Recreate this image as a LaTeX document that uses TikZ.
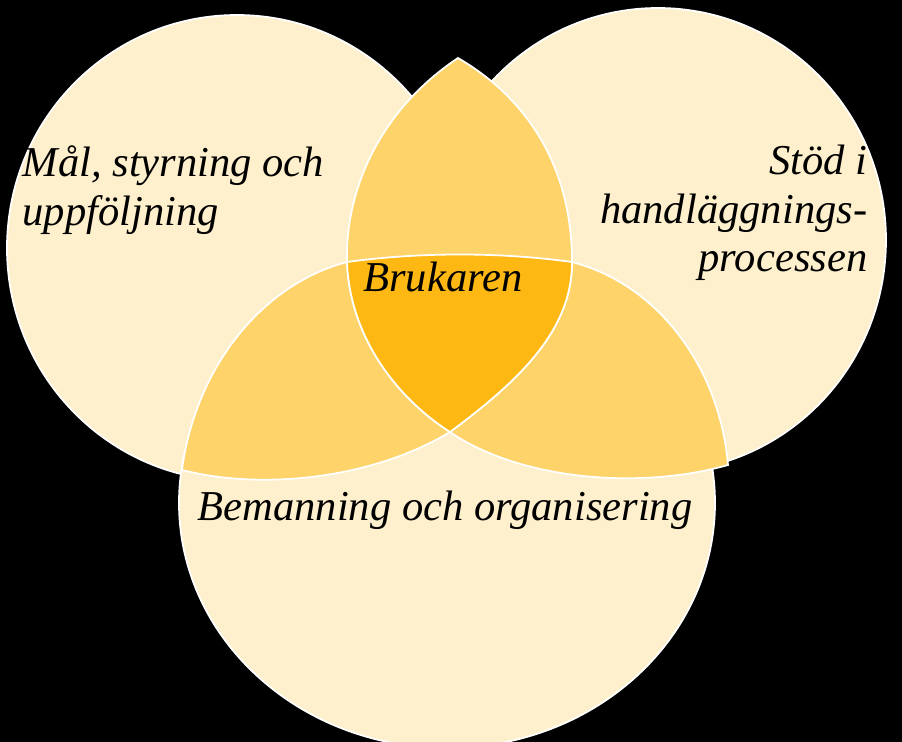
\documentclass[tikz,border=0pt]{standalone}
\usepackage{fontspec}
\setmainfont{Liberation Serif}
\definecolor{paleY}{HTML}{FEF0CC}
\definecolor{midY}{HTML}{FDD36A}
\definecolor{deepY}{HTML}{FDB813}
\begin{document}
\begin{tikzpicture}[x=0.01cm, y=-0.01cm,
    ring/.style={fill=paleY, draw=white, line width=0.5pt},
    lens/.style={fill=midY, draw=white, line width=0.5pt},
    core/.style={fill=deepY, draw=white, line width=0.5pt},
    label/.style={font=\fontsize{12.1}{13.8}\selectfont\itshape, inner sep=0pt}]

    \fill[black] (0,0) rectangle (902,742);
    \useasboundingbox (0,0) rectangle (902,742);

    % the three circles
    \draw[ring] (237,248) ellipse [x radius=230, y radius=233];
    \draw[ring] (658,240) ellipse [x radius=228, y radius=232];
    \draw[ring] (447,503) ellipse [x radius=268, y radius=245];

    % overlaps
    \draw[lens] (458,58) .. controls (380,110) and (345,190) .. (347,262)
        .. controls (350,340) and (400,400) .. (450,432)
        .. controls (520,380) and (572,330) .. (572,262)
        .. controls (572,170) and (530,100) .. (458,58) -- cycle;
    \draw[lens] (182,470) .. controls (195,370) and (260,285) .. (347,262)
        .. controls (350,340) and (400,400) .. (450,432)
        .. controls (370,480) and (260,490) .. (182,470) -- cycle;
    \draw[lens] (572,262) .. controls (660,285) and (720,370) .. (728,465)
        .. controls (640,490) and (520,480) .. (450,432)
        .. controls (520,380) and (572,330) .. (572,262) -- cycle;

    % centre
    \draw[core] (347,262) .. controls (420,252) and (500,252) .. (572,262)
        .. controls (572,330) and (520,380) .. (450,432)
        .. controls (400,400) and (350,340) .. (347,262) -- cycle;

    \node[label, anchor=west, align=left] (goal) at (22,190) {Mål, styrning och\\uppföljning};
    \begin{scope}
        \clip (0,0) rectangle (870,742);
        \node[label, anchor=east, align=right] (support) at (868,213) {Stöd i\\handläggnings-\\processen};
    \end{scope}
    \node[label] (user) at (443,277) {Brukaren};
    \node[label] (staff) at (445,510) {Bemanning och organisering};

\end{tikzpicture}
\end{document}
